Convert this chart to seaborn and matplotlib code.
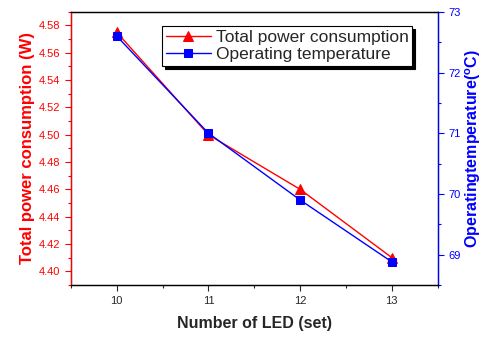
import matplotlib
matplotlib.use("Agg")
import matplotlib.pyplot as plt
import numpy as np
import pandas as pd
import seaborn as sns
from matplotlib.ticker import MultipleLocator

led = [10, 11, 12, 13]
power = [4.575, 4.500, 4.460, 4.410]
temperature = [72.6, 71.0, 69.9, 68.88]

sns.set_style("ticks")
plt.rcParams['font.family'] = ['Liberation Sans', 'DejaVu Sans']

df = pd.DataFrame({"led": led, "power": power, "temp": temperature})

fig, ax = plt.subplots(figsize=(4.89, 3.38), dpi=100)
ax2 = ax.twinx()

sns.lineplot(data=df, x="led", y="power", ax=ax, color="red", marker="^",
             markersize=7, markeredgecolor="red", linewidth=1,
             label="Total power consumption", legend=False)
sns.lineplot(data=df, x="led", y="temp", ax=ax2, color="blue", marker="s",
             markersize=6, markeredgecolor="blue", linewidth=1,
             label="Operating temperature", legend=False)

ax.set_xlim(9.5, 13.5)
ax.set_ylim(4.39, 4.59)
ax2.set_ylim(68.5, 73)
ax.set_xticks(led)
ax.xaxis.set_minor_locator(MultipleLocator(0.5))
ax.yaxis.set_major_locator(MultipleLocator(0.02))
ax.yaxis.set_minor_locator(MultipleLocator(0.01))
ax2.yaxis.set_major_locator(MultipleLocator(1))
ax2.yaxis.set_minor_locator(MultipleLocator(0.5))

ax.set_xlabel("Number of LED (set)", fontsize=11.5, fontweight="bold", labelpad=7)
ax.set_ylabel("Total power consumption (W)", fontsize=12, fontweight="bold",
              color="red", labelpad=3)
ax2.set_ylabel("Operatingtemperature($^{\\mathregular{o}}$C)", fontsize=11.5,
               fontweight="bold", color="blue", labelpad=2)

ax.tick_params(axis="x", labelsize=8, direction="out", length=4, width=0.8, pad=4)
ax.tick_params(axis="x", which="minor", length=2.5, width=0.8)
ax.tick_params(axis="y", which="both", colors="red", labelsize=8, width=0.8)
ax.tick_params(axis="y", which="major", length=4)
ax.tick_params(axis="y", which="minor", length=2.5)
ax2.tick_params(axis="y", which="both", colors="blue", labelsize=8, width=0.8)
ax2.tick_params(axis="y", which="major", length=4)
ax2.tick_params(axis="y", which="minor", length=2.5)

for a in (ax, ax2):
    for s in a.spines.values():
        s.set_visible(True)
        s.set_linewidth(0.9)
        s.set_color("black")
ax2.spines["left"].set_color("red")
ax2.spines["right"].set_color("blue")

h1, l1 = ax.get_legend_handles_labels()
h2, l2 = ax2.get_legend_handles_labels()
leg = ax2.legend(h1 + h2, l1 + l2, loc="upper right", fontsize=12.5,
                 frameon=True, shadow={"color": "black", "alpha": 1},
                 fancybox=False, borderpad=0.2,
                 handlelength=2.6, handletextpad=0.3, labelspacing=0.15,
                 bbox_to_anchor=(0.955, 0.98))
leg.get_frame().set_edgecolor("black")
leg.get_frame().set_linewidth(0.8)

fig.subplots_adjust(left=0.145, right=0.895, top=0.965, bottom=0.157)
fig.savefig("out.png", dpi=100)
